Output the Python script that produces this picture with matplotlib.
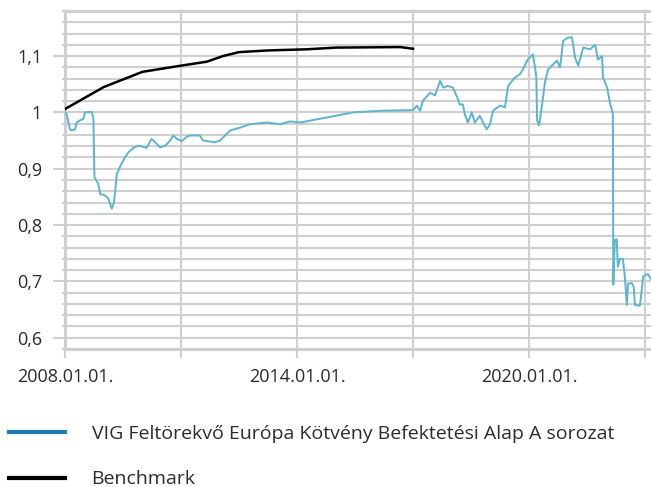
import matplotlib
matplotlib.use("Agg")
import matplotlib.pyplot as plt
import matplotlib.dates as mdates
from matplotlib.lines import Line2D
import pandas as pd

plt.rcParams["font.family"] = ["Open Sans", "DejaVu Sans"]

# Alap árfolyam (normalizált)
fund_dates = [
    "2008-01-01", "2008-01-15", "2008-02-17", "2008-03-03", "2008-04-05", "2008-04-20",
    "2008-05-22", "2008-06-21", "2008-07-08", "2008-09-09", "2008-09-25", "2008-10-05",
    "2008-11-10", "2008-11-28", "2009-01-10", "2009-02-14", "2009-03-17", "2009-04-08",
    "2009-05-04", "2009-06-02", "2009-07-19", "2009-08-22", "2009-10-08", "2009-11-25",
    "2010-02-10", "2010-03-29", "2010-05-01", "2010-06-18", "2010-08-05", "2010-09-21",
    "2010-10-20", "2010-11-22", "2011-01-08", "2011-02-25", "2011-03-26", "2011-06-28",
    "2011-07-27", "2011-11-17", "2012-01-04", "2012-04-08", "2012-07-12", "2012-10-12",
    "2013-03-22", "2013-07-24", "2013-10-27", "2014-01-30", "2014-11-06", "2015-06-14",
    "2016-03-14", "2017-01-01", "2017-02-06", "2017-03-07", "2017-04-05", "2017-06-10",
    "2017-07-27", "2017-09-13", "2017-10-12", "2017-11-25", "2018-01-12", "2018-02-21",
    "2018-03-18", "2018-04-16", "2018-05-04", "2018-06-02", "2018-07-09", "2018-08-07",
    "2018-09-24", "2018-10-23", "2018-11-28", "2018-12-28", "2019-01-26", "2019-04-02",
    "2019-05-19", "2019-06-17", "2019-08-22", "2019-10-08", "2019-11-03", "2019-12-20",
    "2020-02-06", "2020-02-24", "2020-03-10", "2020-03-17", "2020-04-05", "2020-05-04",
    "2020-05-30", "2020-06-28", "2020-08-15", "2020-09-21", "2020-10-20", "2020-11-18",
    "2021-01-04", "2021-02-10", "2021-03-11", "2021-04-09", "2021-05-27", "2021-07-31",
    "2021-09-17", "2021-10-12", "2021-11-21", "2021-11-29", "2022-01-08", "2022-02-02",
    "2022-03-03", "2022-03-07", "2022-03-21", "2022-04-08", "2022-04-19", "2022-05-08",
    "2022-06-06", "2022-06-24", "2022-07-13", "2022-07-24", "2022-08-29", "2022-09-16",
    "2022-09-27", "2022-11-13", "2022-12-02", "2022-12-13", "2023-01-01", "2023-01-30",
    "2023-02-25",
]
fund_values = [
    1.000, 0.998, 0.970, 0.968, 0.970, 0.982,
    0.986, 0.988, 1.000, 1.001, 0.990, 0.885,
    0.873, 0.855, 0.853, 0.847, 0.829, 0.840,
    0.890, 0.903, 0.920, 0.929, 0.937, 0.941,
    0.937, 0.953, 0.947, 0.938, 0.941, 0.950,
    0.959, 0.953, 0.949, 0.957, 0.959, 0.959,
    0.950, 0.947, 0.950, 0.968, 0.973, 0.979,
    0.982, 0.979, 0.984, 0.982, 0.992, 1.000,
    1.003, 1.004, 1.012, 1.003, 1.021, 1.035,
    1.030, 1.056, 1.044, 1.047, 1.044, 1.027,
    1.014, 1.014, 0.997, 0.982, 1.000, 0.982,
    0.994, 0.982, 0.970, 0.979, 1.003, 1.012,
    1.009, 1.047, 1.062, 1.068, 1.076, 1.094,
    1.103, 1.083, 1.062, 0.986, 0.977, 1.015,
    1.053, 1.076, 1.085, 1.092, 1.080, 1.127,
    1.133, 1.133, 1.097, 1.083, 1.115, 1.112,
    1.120, 1.094, 1.100, 1.062, 1.044, 1.018,
    0.997, 0.694, 0.773, 0.775, 0.726, 0.740,
    0.740, 0.708, 0.658, 0.696, 0.697, 0.690,
    0.658, 0.657, 0.687, 0.708, 0.711, 0.713,
    0.704,
]

# Benchmark
bench_dates = [
    "2008-01-01", "2009-01-01", "2010-01-01", "2011-01-01", "2011-09-01", "2012-02-01",
    "2012-07-01", "2013-04-01", "2014-04-01", "2015-01-01", "2016-09-01", "2017-01-01",
]
bench_values = [
    1.006, 1.045, 1.072, 1.083, 1.090, 1.100,
    1.107, 1.110, 1.112, 1.115, 1.116, 1.113,
]

y_major = [0.6, 0.7, 0.8, 0.9, 1.0, 1.1]
y_labels = ["0,6", "0,7", "0,8", "0,9", "1", "1,1"]
x_ticks = ["2008-01-01", "2011-01-01", "2014-01-01", "2017-01-01", "2020-01-01", "2023-01-01"]
x_labels = ["2008.01.01.", "", "2014.01.01.", "", "2020.01.01.", ""]
legend_labels = ["VIG Feltörekvő Európa Kötvény Befektetési Alap A sorozat", "Benchmark"]

grid_c = "#cfcfcf"
text_c = "#2b2b2b"

fig = plt.figure(figsize=(6.51, 4.87), dpi=100)
ax = fig.add_axes([65 / 651, 1 - 349 / 487, 1 - 65 / 651, (349 - 11) / 487])

ax.plot(pd.to_datetime(fund_dates), fund_values, color="#5bb4d0", lw=1.4, zorder=3)
ax.plot(pd.to_datetime(bench_dates), bench_values, color="black", lw=1.8, zorder=3)

ax.set_xlim(pd.Timestamp("2008-01-01"), pd.Timestamp("2023-02-26"))
ax.set_ylim(0.58, 1.18)

ax.set_yticks(y_major)
ax.set_yticklabels(y_labels)
minor = [round(0.58 + 0.02 * i, 2) for i in range(31)]
minor = [m for m in minor if all(abs(m - t) > 1e-6 for t in y_major)]
ax.set_yticks(minor, minor=True)
ax.set_xticks(pd.to_datetime(x_ticks))
ax.set_xticklabels(x_labels)

ax.grid(True, which="both", axis="y", color=grid_c, lw=1.5, zorder=0)
ax.grid(True, which="major", axis="x", color=grid_c, lw=1.5, zorder=0)

ax.tick_params(axis="y", which="major", length=8.5, width=1.5, color=grid_c,
               labelsize=13, labelcolor=text_c, pad=8)
ax.tick_params(axis="y", which="minor", length=2.5, width=1.5, color=grid_c)
ax.tick_params(axis="x", which="major", length=6.5, width=1.5, color=grid_c,
               labelsize=13, labelcolor=text_c, pad=7)

for side in ["left", "bottom", "top"]:
    ax.spines[side].set_color(grid_c)
    ax.spines[side].set_linewidth(2.2)
ax.spines["right"].set_visible(False)

handles = [Line2D([], [], color="#1f78b8", lw=3),
           Line2D([], [], color="black", lw=3)]
fig.legend(handles, legend_labels, loc="upper left", bbox_to_anchor=(5 / 651, 1 - 421 / 487),
           frameon=False, fontsize=14, labelcolor=text_c, handlelength=2.9,
           handletextpad=1.35, labelspacing=1.42, borderpad=0.2, borderaxespad=0.0)

fig.savefig("out.png", dpi=100)
